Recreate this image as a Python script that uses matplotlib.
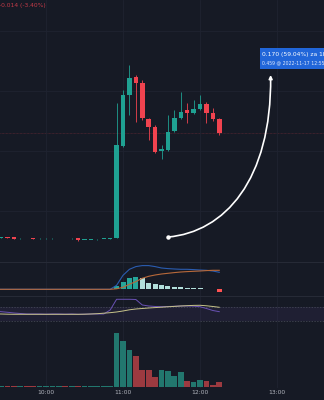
import numpy as np
import matplotlib
matplotlib.use("Agg")
import matplotlib.pyplot as plt
from matplotlib.path import Path
from matplotlib.patches import FancyArrowPatch, Rectangle
from matplotlib.lines import Line2D

# ---------------- data ----------------
bar_times = ["09:20", "09:25", "09:30", "09:35", "09:40", "09:45", "09:50", "09:55",
             "10:00", "10:05", "10:10", "10:15", "10:20", "10:25", "10:30", "10:35",
             "10:40", "10:45", "10:50", "10:55", "11:00", "11:05", "11:10", "11:15",
             "11:20", "11:25", "11:30", "11:35", "11:40", "11:45", "11:50", "11:55",
             "12:00", "12:05", "12:10", "12:15"]

open_ = [0.2880, 0.2875, 0.2882, 0.2878, 0.2866, 0.2867, 0.2870, 0.2865, 0.2865,
         0.2866, 0.2866, 0.2867, 0.2866, 0.2866, 0.2850, 0.2852, 0.2855, 0.2860,
         0.2862, 0.2870, 0.3835, 0.4370, 0.4559, 0.4496, 0.4118, 0.4034, 0.3782,
         0.3793, 0.3992, 0.4129, 0.4213, 0.4181, 0.4223, 0.4276, 0.4181, 0.4118]
high = [0.2885, 0.2885, 0.2884, 0.2880, 0.2868, 0.2868, 0.2872, 0.2866, 0.2866,
        0.2867, 0.2868, 0.2868, 0.2867, 0.2867, 0.2852, 0.2853, 0.2858, 0.2862,
        0.2872, 0.4286, 0.4423, 0.4685, 0.4580, 0.4528, 0.4129, 0.4055, 0.3845,
        0.4160, 0.4213, 0.4402, 0.4286, 0.4318, 0.4370, 0.4297, 0.4234, 0.4129]
low = [0.2875, 0.2872, 0.2870, 0.2860, 0.2864, 0.2865, 0.2862, 0.2863, 0.2864,
       0.2864, 0.2865, 0.2865, 0.2864, 0.2842, 0.2848, 0.2850, 0.2853, 0.2858,
       0.2860, 0.2868, 0.3824, 0.4160, 0.4087, 0.4108, 0.3898, 0.3761, 0.3699,
       0.3782, 0.3982, 0.4118, 0.4076, 0.4171, 0.4213, 0.4076, 0.4097, 0.3950]
close = [0.2880, 0.2882, 0.2874, 0.2864, 0.2867, 0.2866, 0.2864, 0.2865, 0.2866,
         0.2866, 0.2867, 0.2866, 0.2866, 0.2846, 0.2851, 0.2852, 0.2857, 0.2861,
         0.2870, 0.3845, 0.4370, 0.4549, 0.4496, 0.4129, 0.4034, 0.3772, 0.3803,
         0.3982, 0.4129, 0.4192, 0.4181, 0.4223, 0.4276, 0.4181, 0.4118, 0.3971]

volume = [0.5, 0.8, 1.0, 1.2, 0.5, 0.4, 0.8, 0.4, 0.3, 0.4, 0.5, 0.3, 0.3, 1.0,
          0.5, 0.3, 0.4, 0.5, 0.6, 54, 46, 37, 31, 17, 17, 10, 17, 16, 11, 15,
          6, 5, 7, 6, 2, 5]

macd_hist = [0] * 19 + [3.3, 7.7, 11, 12.7, 11, 6.7, 5.3, 4, 3, 2.3, 2, 1.7, 1.3,
                        1, 0.7, 0.4, -3]
macd_line = [0] * 19 + [4, 14, 20, 22.7, 23.7, 23.7, 22.7, 21.3, 20.7, 20.3, 20,
                        20, 19.7, 19.3, 19, 18.3, 17]
signal_line = [0] * 19 + [0.5, 2, 5, 7.7, 11, 13, 14.3, 15.3, 16, 16.7, 17.3,
                          17.7, 18, 18.3, 18.7, 19, 19]

rsi = [59, 56.9, 55.1, 53, 51.5, 50, 50, 50, 49.4, 50, 50, 49.4, 50, 49.1, 49.4,
       50, 50, 50, 61.9, 93.9, 93.9, 93.9, 93.3, 76.9, 73.9, 72.4, 71.8, 72.4, 73,
       73.9, 73.9, 73.3, 71.8, 66.4, 60.4, 56.9]
rsi_ma = [50, 50, 49.4, 49.1, 49.1, 49.1, 49.1, 49.1, 49.1, 49.1, 49.1, 49.1, 49.1,
          49.1, 49.4, 50, 50.9, 52.4, 53.9, 56, 59, 62.5, 64.9, 66.4, 67.9, 69.1,
          70.3, 71.5, 72.7, 73.9, 74.8, 75.7, 76, 74.5, 72.4, 70]

hour_labels = ["10:00", "11:00", "12:00", "13:00"]

change_text = "-0.014 (-3.40%)"
measure_start_time, measure_start_price = "11:35", 0.288
measure_end_time, measure_end_price = "12:55", 0.458
measure_line1 = "0.170 (59.04%) za 1h 20m"
measure_line2 = "0.459 @ 2022-11-17 12:55"


def to_min(s):
    h, m = s.split(":")
    return int(h) * 60 + int(m)


t = np.array([to_min(s) for s in bar_times], dtype=float)
o = np.array(open_); h = np.array(high); l = np.array(low); c = np.array(close)
up = c >= o

# ---------------- style ----------------
BG = "#161a25"
GRID = "#1f2330"
TEAL = "#1fa192"
RED = "#f0434f"
VTEAL = "#22776e"
VRED = "#9c3a40"

fig = plt.figure(figsize=(3.24, 4.0), dpi=100, facecolor=BG)
ax_main = fig.add_axes([0, 0.345, 1, 0.655])
ax_macd = fig.add_axes([0, 0.26, 1, 0.085])
ax_rsi = fig.add_axes([0, 0.1925, 1, 0.0675])
ax_vol = fig.add_axes([0, 0.03, 1, 0.1625])

xlim = (564.16, 816.6)
hour_ticks = [to_min(s) for s in hour_labels]
for ax in (ax_main, ax_macd, ax_rsi, ax_vol):
    ax.set_facecolor(BG)
    ax.set_xlim(*xlim)
    for sp in ax.spines.values():
        sp.set_visible(False)
    ax.set_xticks(hour_ticks)
    ax.tick_params(axis="x", length=0, labelbottom=False)
    ax.set_yticks([])
    ax.grid(axis="x", color=GRID, lw=0.6)
    ax.set_axisbelow(True)

# ---------------- main price ----------------
ax_main.set_ylim(0.2618, 0.5367)
for gy in [0.3155, 0.3785, 0.4415, 0.5045]:
    ax_main.axhline(gy, color=GRID, lw=0.6, zorder=0)
ax_main.axhline(c[-1], color=RED, lw=0.5, alpha=0.35, ls=(0, (1, 1)), zorder=0)

cols = np.where(up, TEAL, RED)
body_w = 3.5
ax_main.vlines(t, l, h, colors=cols, lw=0.6, zorder=2)
body_bottom = np.minimum(o, c)
body_h = np.maximum(np.abs(c - o), 0.0008)
ax_main.bar(t, body_h, bottom=body_bottom, width=body_w, color=cols, lw=0, zorder=3)

# measuring arrow
x0, y0 = to_min(measure_start_time), measure_start_price
x1, y1 = to_min(measure_end_time), measure_end_price
dx, dy = x1 - x0, y1 - y0
verts = [(x0, y0), (x0 + 0.55 * dx, y0 + 0.03 * dy),
         (x1 + 0.01 * dx, y0 + 0.35 * dy), (x1, y1)]
path = Path(verts, [Path.MOVETO, Path.CURVE4, Path.CURVE4, Path.CURVE4])
arr = FancyArrowPatch(path=path, arrowstyle="-|>", mutation_scale=5,
                      color="white", lw=1.2, zorder=6)
ax_main.add_patch(arr)
ax_main.plot([x0], [y0], "o", ms=2.2, color="white", zorder=7)

# measure label box
box_left = x1 - 8.6
ax_main.add_patch(Rectangle((box_left, 0.4643), 60, 0.0220, color="#2166d9",
                            lw=0, zorder=8))
ax_main.text(box_left + 2.2, 0.4800, measure_line1, color="white", fontsize=4.3,
             va="center", ha="left", zorder=9)
ax_main.text(box_left + 2.2, 0.4703, measure_line2, color="#dfe8fb",
             fontsize=3.3, va="center", ha="left", zorder=9)

fig.text(-0.004, 0.985, change_text, color="#c43a48", fontsize=4.3,
         va="center", ha="left")

# ---------------- MACD ----------------
ax_macd.set_ylim(-6.7, 27.3)
hist = np.array(macd_hist)
hcols = []
for i, v in enumerate(hist):
    prev = hist[i - 1] if i > 0 else 0
    if v < 0:
        hcols.append("#ff5252")
    elif v >= prev:
        hcols.append("#26a69a")
    else:
        hcols.append("#b2dfdb")
ax_macd.bar(t, hist, width=3.9, color=hcols, lw=0, zorder=2)
ax_macd.plot(t, macd_line, color="#2a5cb0", lw=0.8, zorder=3)
ax_macd.plot(t, signal_line, color="#b8693a", lw=0.8, zorder=4)

# ---------------- RSI ----------------
ax_rsi.set_ylim(23.1, 103.7)
ax_rsi.axhspan(30, 70, color="#7e57c2", alpha=0.09, lw=0)
for lvl in (30, 70):
    ax_rsi.axhline(lvl, color="#4a4e5c", lw=0.5, ls=(0, (2, 2)))
ax_rsi.plot(t, rsi, color="#6a52b5", lw=0.7, zorder=3)
ax_rsi.plot(t, rsi_ma, color="#c8c48a", lw=0.7, zorder=4)

# ---------------- Volume ----------------
ax_vol.set_ylim(-1.3, 63.7)
vcols = np.where(up, VTEAL, VRED)
ax_vol.bar(t, volume, width=4.5, color=vcols, lw=0, zorder=2)
ax_vol.tick_params(axis="x", labelbottom=True, colors="#b2b5be", labelsize=4.3,
                   pad=1.5)
ax_vol.set_xticklabels(hour_labels)

# panel separators
for yy in (1 - 262 / 400, 1 - 296 / 400):
    fig.add_artist(Line2D([0, 1], [yy, yy], color="#262a36", lw=0.8,
                          transform=fig.transFigure))

fig.savefig("out.png", dpi=100, facecolor=BG)
